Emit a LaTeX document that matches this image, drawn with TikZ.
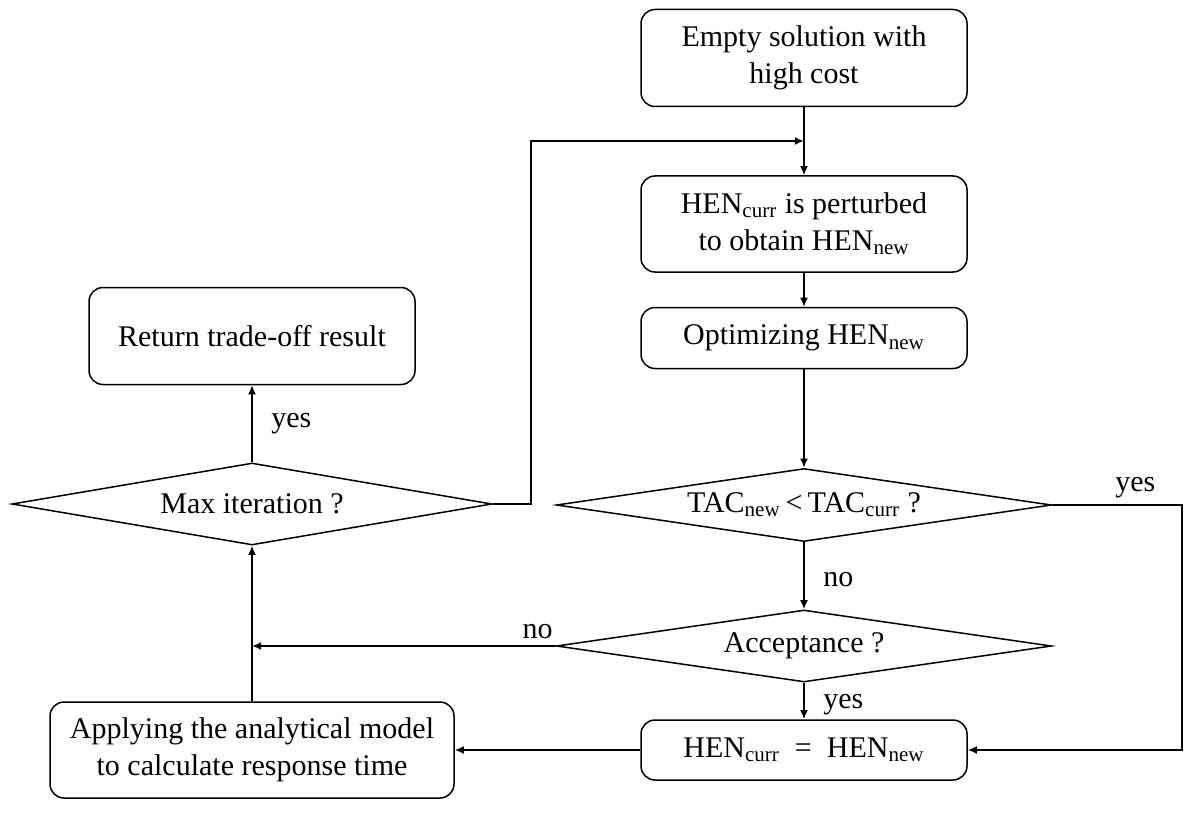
\documentclass[tikz,border=0pt]{standalone}
\usepackage{fontspec}
\setmainfont{Liberation Serif}
\usetikzlibrary{arrows.meta,positioning,shapes.geometric}

\begin{document}
\begin{tikzpicture}[x=0.5pt,y=-0.5pt,font=\fontsize{15}{18.5}\selectfont,line width=0.75pt,
	stepbox/.style={rectangle,draw,rounded corners=7pt,align=center,minimum width=163pt,inner sep=2pt},
	decision/.style={diamond,draw,aspect=6,inner sep=0pt,minimum width=247.5pt,minimum height=36.5pt}]
	\useasboundingbox (0,0) rectangle (1184,829);
	\begin{scope}
		\node[stepbox,minimum height=48.5pt] (empty) at (804,58) {Empty solution with\\high cost};
		\node[stepbox,minimum height=48pt] (perturb) at (804,224) {HEN\textsubscript{curr} is perturbed\\to obtain HEN\textsubscript{new}};
		\node[stepbox,minimum height=30.5pt] (optim) at (804,338) {Optimizing HEN\textsubscript{new}};
		\node[decision] (tac) at (804,505) {TAC\textsubscript{new}\,<\,TAC\textsubscript{curr} ?};
		\node[decision,minimum height=36pt] (acc) at (804,646) {Acceptance ?};
		\node[stepbox,minimum height=30pt] (heneq) at (804,750) {HEN\textsubscript{curr}\enspace=\enspace HEN\textsubscript{new}};
		\node[stepbox,minimum width=202pt,minimum height=48pt] (applying) at (252,750) {Applying the analytical model\\to calculate response time};
		\node[decision,minimum width=240pt,minimum height=41pt] (maxit) at (252,504) {Max iteration ?};
		\node[stepbox,minimum height=48.5pt] (result) at (252,336) {Return trade-off result};

		\coordinate (merge) at (804,141);
		\coordinate (loopc) at (531,141);
		\coordinate (rightc) at (1182,750);
	\end{scope}

	\begin{scope}[-{Latex[length=1.6mm,width=1.4mm]}]
	\draw (empty) -- (perturb);
	\draw (maxit.east) -| (loopc) -- (merge);
	\draw (perturb) -- (optim);
	\draw (optim) -- (tac);
	\draw (tac.east) -- node[above,pos=0.64] (yes1) {yes} (tac.east -| rightc) -- (rightc) -- (heneq.east);
	\draw (tac) -- node[right=6pt,pos=0.55] (no1) {no} (acc);
	\draw (acc.west) -- node[above,pos=0.06] (no2) {no} (acc.west -| applying.north);
	\draw (acc) -- node[right=6pt,pos=0.6] (yes2) {yes} (heneq);
	\draw (heneq) -- (applying);
	\draw (applying) -- (maxit);
	\draw (maxit) -- node[right=6pt] (yes3) {yes} (result);
	\end{scope}
\end{tikzpicture}
\end{document}
